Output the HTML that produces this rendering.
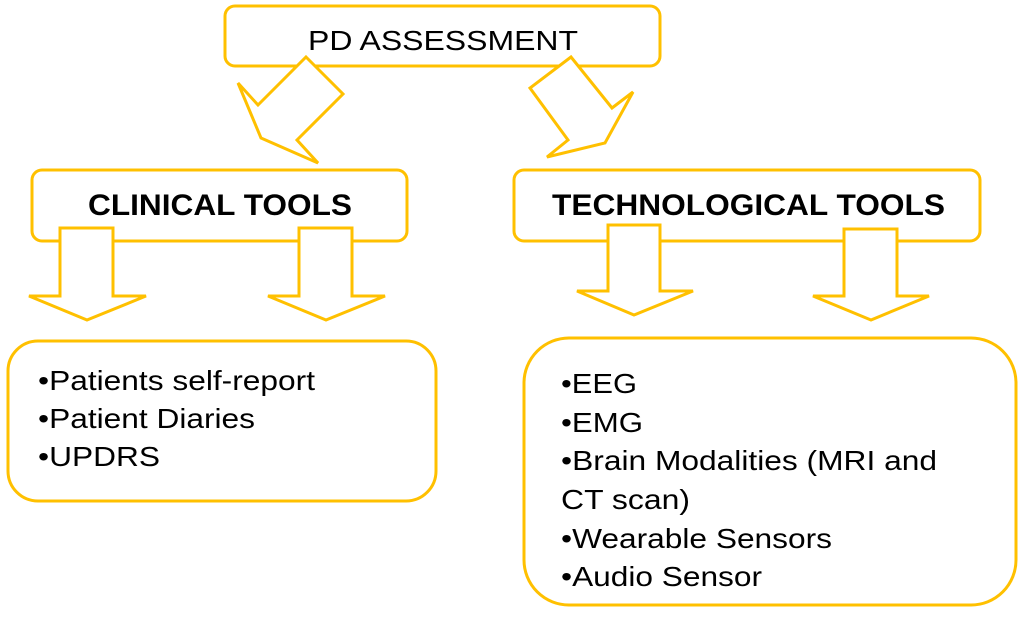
<!DOCTYPE html>
<html><head><style>
body{margin:0;background:#fff}
svg{display:block}
text{font-family:"Liberation Sans",sans-serif;fill:#000}
</style></head><body>
<svg width="1024" height="617" viewBox="0 0 1024 617" xmlns="http://www.w3.org/2000/svg">
<g fill="#fff" stroke="#ffc000" stroke-width="3" stroke-linejoin="miter">
<rect x="225" y="6" width="435" height="60" rx="10"/>
<rect x="32" y="170" width="375" height="71" rx="10"/>
<rect x="514" y="170" width="466" height="71" rx="10"/>
<rect x="8" y="341" width="428" height="160" rx="30"/>
<rect x="524" y="338" width="492" height="267" rx="45"/>
<polygon points="306,57 343,94 297,140 318,163 261,138 238,83 258,105"/>
<polygon points="571,57 530,88 568,140 547,157 605,143 633,92 612,108"/>
<polygon points="60,228 113,228 113,296 146,296 87,320 29,296 60,296"/>
<polygon points="299,228 352,228 352,296 385,296 326,320 268,296 299,296"/>
<polygon points="608,225 660,225 660,291 693,291 634,315 577,291 608,291"/>
<polygon points="844,229 897,229 897,296 929,296 871,320 813,296 844,296"/>
</g>
<text x="308" y="50" font-size="28" textLength="270" lengthAdjust="spacingAndGlyphs">PD ASSESSMENT</text>
<text x="88" y="215" font-size="30" font-weight="bold" textLength="264" lengthAdjust="spacingAndGlyphs">CLINICAL TOOLS</text>
<text x="552" y="215" font-size="30" font-weight="bold" textLength="393" lengthAdjust="spacingAndGlyphs">TECHNOLOGICAL TOOLS</text>
<g font-size="28">
<text x="38" y="390" textLength="277" lengthAdjust="spacingAndGlyphs">•Patients self-report</text>
<text x="38" y="428" textLength="217" lengthAdjust="spacingAndGlyphs">•Patient Diaries</text>
<text x="38" y="466" textLength="122" lengthAdjust="spacingAndGlyphs">•UPDRS</text>
<text x="561" y="393" textLength="76" lengthAdjust="spacingAndGlyphs">•EEG</text>
<text x="561" y="432" textLength="82" lengthAdjust="spacingAndGlyphs">•EMG</text>
<text x="561" y="470" textLength="376" lengthAdjust="spacingAndGlyphs">•Brain Modalities (MRI and</text>
<text x="561" y="509" textLength="129" lengthAdjust="spacingAndGlyphs">CT scan)</text>
<text x="561" y="548" textLength="271" lengthAdjust="spacingAndGlyphs">•Wearable Sensors</text>
<text x="561" y="586" textLength="201" lengthAdjust="spacingAndGlyphs">•Audio Sensor</text>
</g>
</svg>
</body></html>
